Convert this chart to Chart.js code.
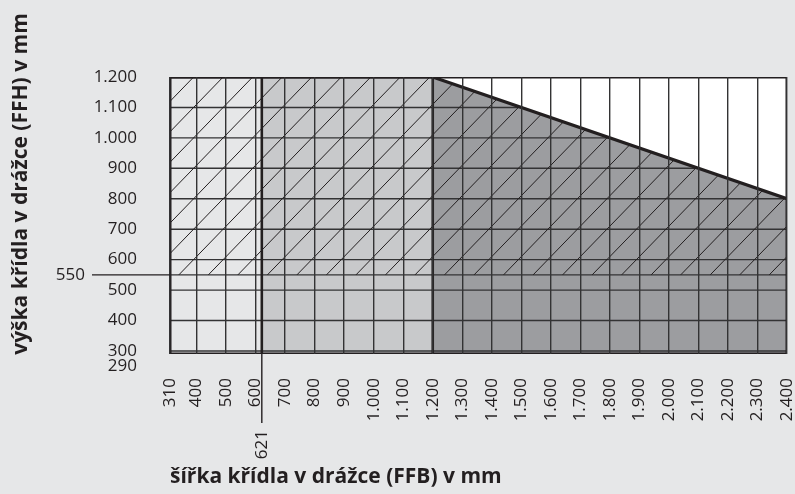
<!DOCTYPE html>
<html>
<head>
<meta charset="utf-8">
<script src="https://cdn.jsdelivr.net/npm/chart.js@4.4.1/dist/chart.umd.min.js"></script>
<style>
  html, body { margin: 0; padding: 0; background: #e6e7e8; }
  canvas { display: block; }
</style>
</head>
<body>
<canvas id="chart" width="795" height="494"></canvas>
<script>
// osy
const xTicks = [310, 400, 500, 600, 700, 800, 900, 1000, 1100, 1200, 1300, 1400, 1500,
                1600, 1700, 1800, 1900, 2000, 2100, 2200, 2300, 2400];
const yTicks = [290, 300, 400, 500, 600, 700, 800, 900, 1000, 1100, 1200];

// hranice oblastí (šířka FFB)
const zoneEdges = [310, 621, 1200, 2400];
// horní mez výšky FFH
const limitX = [310, 1200, 2400];
const limitY = [1200, 1200, 800];
// spodní hranice šrafované oblasti
const minHeight = 550;
const hatchStep = 100;
const hatchPhase = 10;

const ink = '#231f20';
const gridInk = '#333334';
const zoneColors = ['#e6e7e8', '#c8c9cb', '#9c9da0'];
const fontFamily = "'Open Sans', sans-serif";

const xMin = xTicks[0], xMax = xTicks[xTicks.length - 1];
const yMin = yTicks[0], yMax = yTicks[yTicks.length - 1];

function fmt(v) {
  if (v < 1000) return String(v);
  return Math.floor(v / 1000) + '.' + String(v % 1000).padStart(3, '0');
}

function limitAt(x) {
  for (let i = 0; i < limitX.length - 1; i++) {
    if (x <= limitX[i + 1]) {
      const t = (x - limitX[i]) / (limitX[i + 1] - limitX[i]);
      return limitY[i] + t * (limitY[i + 1] - limitY[i]);
    }
  }
  return limitY[limitY.length - 1];
}

// kde vodorovná čára ve výšce y narazí na horní mez
function limitXAt(y) {
  for (let i = 0; i < limitX.length - 1; i++) {
    const y0 = limitY[i], y1 = limitY[i + 1];
    if (y0 >= y && y1 < y) {
      return limitX[i] + (y0 - y) / (y0 - y1) * (limitX[i + 1] - limitX[i]);
    }
  }
  return xMax;
}

const datasets = [];
function addLine(points, style) {
  datasets.push(Object.assign({
    data: points,
    pointRadius: 0,
    borderWidth: 0,
    borderColor: ink,
    fill: false,
    tension: 0,
  }, style));
}

// plochy
for (let i = 0; i < zoneEdges.length - 1; i++) {
  const a = zoneEdges[i], b = zoneEdges[i + 1];
  const pts = [{ x: a, y: limitAt(a) }];
  limitX.forEach(x => { if (x > a && x < b) pts.push({ x: x, y: limitAt(x) }); });
  pts.push({ x: b, y: limitAt(b) });
  addLine(pts, { fill: 'start', backgroundColor: zoneColors[i], order: 10 });
}
addLine(limitX.map((x, i) => ({ x: x, y: limitY[i] })), { fill: 'end', backgroundColor: '#ffffff', order: 10 });

// vodorovné čáry mřížky, jen pod horní mezí
const rows = yTicks.slice(1, -1).concat([minHeight]);
rows.forEach(y => {
  addLine([{ x: xMin, y: y }, { x: limitXAt(y), y: y }], { borderWidth: 1.4, borderColor: gridInk, order: 5 });
});

// šrafování
const cStart = hatchPhase + hatchStep * Math.ceil((minHeight - xMax - hatchPhase) / hatchStep);
for (let c = cStart; c < yMax - xMin; c += hatchStep) {
  const xs = Math.max(xMin, minHeight - c);
  const f = x => limitAt(x) - (x + c);
  if (f(xs) <= 0) continue;
  let xe = xMax;
  for (let i = 0; i < limitX.length - 1; i++) {
    if (limitX[i + 1] <= xs) continue;
    const x0 = Math.max(limitX[i], xs), x1 = limitX[i + 1];
    const f0 = f(x0), f1 = f(x1);
    if (f1 <= 0) { xe = x0 + f0 / (f0 - f1) * (x1 - x0); break; }
  }
  addLine([{ x: xs, y: xs + c }, { x: xe, y: xe + c }], { borderWidth: 1, order: 4 });
}

// silné svislé hranice
zoneEdges.slice(1, -1).forEach(x => {
  addLine([{ x: x, y: yMin }, { x: x, y: limitAt(x) }], { borderWidth: 2.6, order: 2 });
});

// horní mez a rámeček
addLine(limitX.map((x, i) => ({ x: x, y: limitY[i] })), { borderWidth: 3.2, order: 1 });
addLine([{ x: xMin, y: yMin }, { x: xMin, y: yMax }, { x: xMax, y: yMax }, { x: xMax, y: yMin }, { x: xMin, y: yMin }],
  { borderWidth: 3, order: 1 });

const extras = {
  id: 'extras',
  afterDraw(chart) {
    const { ctx, chartArea, scales } = chart;
    ctx.save();
    ctx.fillStyle = ink;
    ctx.strokeStyle = ink;
    ctx.lineWidth = 1.4;

    // 550
    const y550 = scales.y.getPixelForValue(minHeight);
    ctx.beginPath();
    ctx.moveTo(92, y550);
    ctx.lineTo(chartArea.left, y550);
    ctx.stroke();
    ctx.font = "17px " + fontFamily;
    ctx.textAlign = 'right';
    ctx.textBaseline = 'middle';
    ctx.fillText(fmt(minHeight), 85, y550);

    // 621
    const x621 = scales.x.getPixelForValue(zoneEdges[1]);
    ctx.beginPath();
    ctx.moveTo(x621, chartArea.bottom);
    ctx.lineTo(x621, 423);
    ctx.stroke();
    ctx.save();
    ctx.translate(x621, 430);
    ctx.rotate(-Math.PI / 2);
    ctx.textAlign = 'right';
    ctx.fillText(fmt(zoneEdges[1]), 0, 0);
    ctx.restore();

    // název osy y
    ctx.translate(21, 184);
    ctx.rotate(-Math.PI / 2);
    ctx.font = "bold 21px " + fontFamily;
    ctx.textAlign = 'center';
    ctx.fillText('výška křídla v drážce (FFH) v mm', 0, 0);
    ctx.restore();
  }
};

new Chart(document.getElementById('chart').getContext('2d'), {
  type: 'line',
  data: { datasets: datasets },
  plugins: [extras],
  options: {
    responsive: false,
    animation: false,
    events: [],
    layout: { padding: { left: 40, right: 8, top: 77, bottom: 0 } },
    plugins: { legend: { display: false }, tooltip: { enabled: false } },
    scales: {
      x: {
        type: 'linear',
        min: xMin,
        max: xMax,
        afterBuildTicks: s => { s.ticks = xTicks.map(v => ({ value: v })); },
        afterFit: s => { s.height = 140; s.paddingLeft = 0; s.paddingRight = 0; },
        ticks: {
          autoSkip: false,
          minRotation: 90,
          maxRotation: 90,
          padding: 24,
          color: ink,
          font: { family: fontFamily, size: 17 },
          callback: v => fmt(v),
        },
        grid: { color: gridInk, lineWidth: 1.4, drawTicks: false, z: 1 },
        border: { display: false },
        title: {
          display: true,
          text: 'šířka křídla v drážce (FFB) v mm',
          align: 'start',
          color: ink,
          font: { family: fontFamily, size: 21, weight: 'bold' },
          padding: { top: 0, bottom: 4 },
        },
      },
      y: {
        type: 'linear',
        min: yMin,
        max: yMax,
        afterBuildTicks: s => { s.ticks = yTicks.map(v => ({ value: v })); },
        afterFit: s => { s.width = 130; s.paddingTop = 0; s.paddingBottom = 0; },
        ticks: {
          autoSkip: false,
          padding: 25,
          color: ink,
          font: { family: fontFamily, size: 17, lineHeight: 1.45 },
          callback: v => (v === yMin ? ['', fmt(v)] : fmt(v)),
        },
        grid: { display: false },
        border: { display: false },
      },
    },
  },
});
</script>
</body>
</html>
